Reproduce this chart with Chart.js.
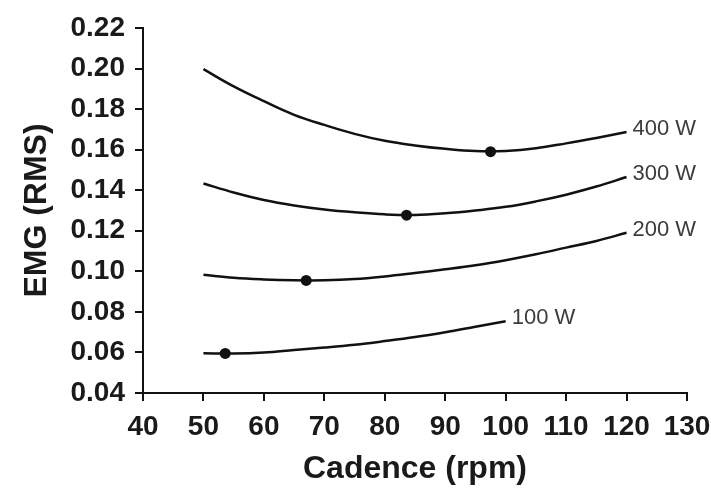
<!DOCTYPE html>
<html>
<head>
<meta charset="utf-8">
<script src="https://cdn.jsdelivr.net/npm/chart.js@4.4.1/dist/chart.umd.min.js"></script>
<style>
    html, body { margin: 0; padding: 0; background: #fff; }
</style>
</head>
<body>
<canvas id="myChart" width="711" height="488"></canvas>
<script>
// Данные

const cadence = [50, 55, 60, 65, 70, 75, 80, 85, 90, 95, 100, 105, 110, 115, 120]
const emg400 = [0.1997, 0.1912, 0.1839, 0.1772, 0.1722, 0.1678, 0.1644, 0.1621, 0.1604, 0.1593, 0.1594, 0.1607, 0.1631, 0.1658, 0.1687]
const emg300 = [0.1433, 0.1389, 0.1352, 0.1325, 0.1305, 0.1291, 0.1281, 0.1278, 0.1286, 0.1300, 0.1318, 0.1345, 0.1378, 0.1418, 0.1465]
const emg200 = [0.0983, 0.0968, 0.0960, 0.0956, 0.0956, 0.0962, 0.0975, 0.0992, 0.1010, 0.1030, 0.1055, 0.1084, 0.1117, 0.1150, 0.1190]
const emg100 = [0.0596, 0.0595, 0.0600, 0.0612, 0.0624, 0.0638, 0.0656, 0.0676, 0.0700, 0.0727, 0.0754]

const powerLabels = ['400 W', '300 W', '200 W', '100 W']

// минимумы (точки на кривых)
const minCadence = [97.5, 83.6, 67.0, 53.6]
const minEmg = [0.1590, 0.1277, 0.0955, 0.0595]

const xTicks = [40, 50, 60, 70, 80, 90, 100, 110, 120, 130]
const yTicks = [0.04, 0.06, 0.08, 0.10, 0.12, 0.14, 0.16, 0.18, 0.20, 0.22]

const toPoints = (xs, ys) => ys.map((y, i) => ({ x: xs[i], y: y }))

const curve = (label, ys) => ({
    label: label,
    data: toPoints(cadence, ys),
    borderColor: '#111',
    borderWidth: 2.5,
    pointRadius: 0,
    tension: 0.4,
    fill: false,
    endLabel: true
})

// Подписи справа от конца кривой
const endLabels = {
    id: 'endLabels',
    afterDatasetsDraw(chart) {
        const ctx = chart.ctx
        ctx.save()
        ctx.font = '22px "Liberation Sans", Arial, sans-serif'
        ctx.fillStyle = '#3c3c3c'
        ctx.textAlign = 'left'
        ctx.textBaseline = 'middle'
        chart.data.datasets.forEach((ds, i) => {
            if (!ds.endLabel) return
            const pts = chart.getDatasetMeta(i).data
            const last = pts[pts.length - 1]
            ctx.fillText(ds.label, last.x + 6, last.y - 3)
        })
        ctx.restore()
    }
}

const tickFont = { family: '"Liberation Sans", Arial, sans-serif', size: 28, weight: 'bold' }
const titleFont = { family: '"Liberation Sans", Arial, sans-serif', size: 32, weight: 'bold' }

const axisGrid = {
    display: true,
    drawOnChartArea: false,
    drawTicks: true,
    tickLength: 8,
    color: '#111',
    lineWidth: 2
}

const ctx = document.getElementById('myChart').getContext('2d')

const myChart = new Chart(ctx, {
    type: 'line',
    data: {
        datasets: [
            curve(powerLabels[0], emg400),
            curve(powerLabels[1], emg300),
            curve(powerLabels[2], emg200),
            curve(powerLabels[3], emg100),
            {
                label: 'min',
                data: toPoints(minCadence, minEmg),
                showLine: false,
                pointRadius: 5.5,
                pointBackgroundColor: '#111',
                pointBorderColor: '#111',
                borderWidth: 0
            }
        ]
    },
    options: {
        responsive: false,
        animation: false,
        devicePixelRatio: 1,
        layout: { padding: { top: 28, right: 24, left: 0, bottom: 0 } },
        plugins: {
            legend: { display: false },
            tooltip: { enabled: false }
        },
        scales: {
            x: {
                type: 'linear',
                min: 40,
                max: 130,
                afterBuildTicks: (scale) => { scale.ticks = xTicks.map(v => ({ value: v })) },
                afterFit: (scale) => {
                    scale.height = 95
                    scale.paddingLeft = 0
                    scale.paddingRight = 0
                },
                grid: axisGrid,
                border: { display: true, color: '#111', width: 2 },
                ticks: {
                    font: tickFont,
                    color: '#1a1a1a',
                    padding: 9,
                    maxRotation: 0,
                    callback: (v) => v
                },
                title: {
                    display: true,
                    text: 'Cadence (rpm)',
                    font: titleFont,
                    color: '#1a1a1a',
                    padding: { top: 0, bottom: 0 }
                }
            },
            y: {
                min: 0.04,
                max: 0.22,
                afterBuildTicks: (scale) => { scale.ticks = yTicks.map(v => ({ value: v })) },
                afterFit: (scale) => {
                    scale.width = 143
                    scale.paddingTop = 0
                    scale.paddingBottom = 0
                },
                grid: axisGrid,
                border: { display: true, color: '#111', width: 2 },
                ticks: {
                    font: tickFont,
                    color: '#1a1a1a',
                    padding: 10,
                    callback: (v) => v.toFixed(2)
                },
                title: {
                    display: true,
                    text: 'EMG (RMS)',
                    font: titleFont,
                    color: '#1a1a1a',
                    padding: { top: 18, bottom: 0 }
                }
            }
        }
    },
    plugins: [endLabels]
})
</script>
</body>
</html>
